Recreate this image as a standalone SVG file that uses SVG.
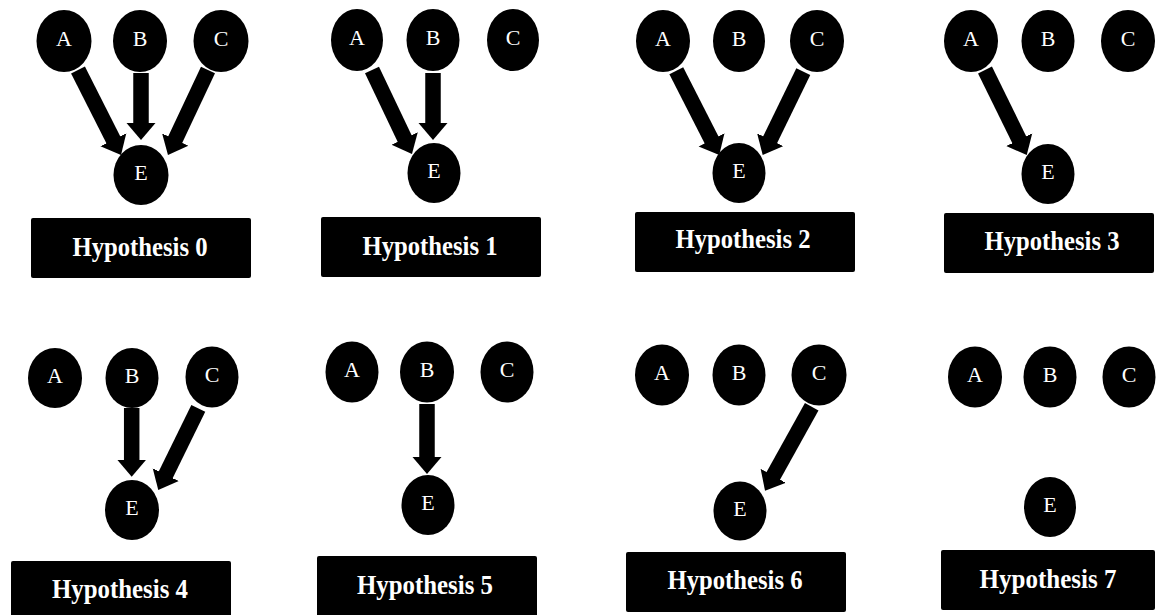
<svg xmlns="http://www.w3.org/2000/svg" width="1156" height="615" viewBox="0 0 1156 615">
<style>
.n{fill:#000}
.nt{font-family:"Liberation Serif","Times New Roman",serif;font-size:22px;fill:#fff;text-anchor:middle}
.lb{fill:#000}
.lt{font-family:"Liberation Serif","Times New Roman",serif;font-size:28px;font-weight:bold;fill:#fff;text-anchor:middle}
.c{stroke:#000;stroke-width:15.5;fill:none;marker-end:url(#ah)}
</style>
<defs>
<marker id="ah" markerUnits="userSpaceOnUse" viewBox="0 -15 18 30" markerWidth="18" markerHeight="30" refX="1" refY="0" orient="auto">
<path d="M0,-14.5 L17,0 L0,14.5 Z" fill="#000"/>
</marker>
</defs>
<rect width="1156" height="615" fill="#fff"/>
<g id="connectors">
<line class="c" x1="78" y1="70" x2="113.8" y2="140.7"/>
<line class="c" x1="141" y1="73" x2="141" y2="124"/>
<line class="c" x1="208" y1="70" x2="174.8" y2="140.5"/>
<line class="c" x1="372" y1="70" x2="405.1" y2="139.5"/>
<line class="c" x1="433" y1="73" x2="433" y2="124"/>
<line class="c" x1="676.3" y1="70.7" x2="712" y2="140.7"/>
<line class="c" x1="803.3" y1="71.7" x2="769.7" y2="140.6"/>
<line class="c" x1="985" y1="70" x2="1019.7" y2="140.6"/>
<line class="c" x1="131.7" y1="408" x2="131.7" y2="460.7"/>
<line class="c" x1="198.3" y1="408.3" x2="165.3" y2="475.6"/>
<line class="c" x1="427" y1="404" x2="427" y2="458"/>
<line class="c" x1="811.7" y1="406.7" x2="772.8" y2="476.7"/>
</g>
<!-- Hypothesis 0 -->
<g id="h0-A"><ellipse class="n" cx="64" cy="41" rx="27.5" ry="31"/><text class="nt" x="64" y="46">A</text></g>
<g id="h0-B"><ellipse class="n" cx="140" cy="41" rx="27" ry="31"/><text class="nt" x="140" y="46">B</text></g>
<g id="h0-C"><ellipse class="n" cx="221" cy="41" rx="27.5" ry="31"/><text class="nt" x="221" y="46">C</text></g>
<g id="h0-E"><ellipse class="n" cx="141" cy="175" rx="27.5" ry="30"/><text class="nt" x="141" y="180">E</text></g>
<g id="h0-label"><rect class="lb" x="31" y="218" width="220" height="60" rx="2"/><text class="lt" x="140" y="256" textLength="135" lengthAdjust="spacingAndGlyphs">Hypothesis 0</text></g>
<!-- Hypothesis 1 -->
<g id="h1-A"><ellipse class="n" cx="357" cy="40" rx="26" ry="31"/><text class="nt" x="357" y="45">A</text></g>
<g id="h1-B"><ellipse class="n" cx="433" cy="40" rx="26.5" ry="31"/><text class="nt" x="433" y="45">B</text></g>
<g id="h1-C"><ellipse class="n" cx="513" cy="40" rx="26" ry="31"/><text class="nt" x="513" y="45">C</text></g>
<g id="h1-E"><ellipse class="n" cx="434" cy="173" rx="26.5" ry="30"/><text class="nt" x="434" y="178">E</text></g>
<g id="h1-label"><rect class="lb" x="321" y="217" width="220" height="60" rx="2"/><text class="lt" x="430" y="255" textLength="135" lengthAdjust="spacingAndGlyphs">Hypothesis 1</text></g>
<!-- Hypothesis 2 -->
<g id="h2-A"><ellipse class="n" cx="663" cy="41" rx="27" ry="31"/><text class="nt" x="663" y="46">A</text></g>
<g id="h2-B"><ellipse class="n" cx="739" cy="41" rx="26" ry="31"/><text class="nt" x="739" y="46">B</text></g>
<g id="h2-C"><ellipse class="n" cx="817" cy="41" rx="27" ry="31"/><text class="nt" x="817" y="46">C</text></g>
<g id="h2-E"><ellipse class="n" cx="739" cy="173" rx="26.5" ry="30"/><text class="nt" x="739" y="178">E</text></g>
<g id="h2-label"><rect class="lb" x="635" y="212" width="220" height="60" rx="2"/><text class="lt" x="743" y="248" textLength="135" lengthAdjust="spacingAndGlyphs">Hypothesis 2</text></g>
<!-- Hypothesis 3 -->
<g id="h3-A"><ellipse class="n" cx="971" cy="41" rx="27" ry="31"/><text class="nt" x="971" y="46">A</text></g>
<g id="h3-B"><ellipse class="n" cx="1048" cy="41" rx="26.5" ry="31"/><text class="nt" x="1048" y="46">B</text></g>
<g id="h3-C"><ellipse class="n" cx="1128" cy="41" rx="27" ry="31"/><text class="nt" x="1128" y="46">C</text></g>
<g id="h3-E"><ellipse class="n" cx="1048" cy="174" rx="26.5" ry="30"/><text class="nt" x="1048" y="179">E</text></g>
<g id="h3-label"><rect class="lb" x="944" y="213" width="210" height="60" rx="2"/><text class="lt" x="1052" y="250" textLength="135" lengthAdjust="spacingAndGlyphs">Hypothesis 3</text></g>
<!-- Hypothesis 4 -->
<g id="h4-A"><ellipse class="n" cx="55" cy="378" rx="27" ry="30"/><text class="nt" x="55" y="383">A</text></g>
<g id="h4-B"><ellipse class="n" cx="132" cy="378" rx="26.5" ry="30"/><text class="nt" x="132" y="383">B</text></g>
<g id="h4-C"><ellipse class="n" cx="212" cy="377" rx="26.5" ry="30.5"/><text class="nt" x="212" y="382">C</text></g>
<g id="h4-E"><ellipse class="n" cx="132" cy="510" rx="27" ry="30"/><text class="nt" x="132" y="515">E</text></g>
<g id="h4-label"><rect class="lb" x="11" y="561" width="220" height="60" rx="2"/><text class="lt" x="120" y="598" textLength="136" lengthAdjust="spacingAndGlyphs">Hypothesis 4</text></g>
<!-- Hypothesis 5 -->
<g id="h5-A"><ellipse class="n" cx="352" cy="372" rx="26.5" ry="30.5"/><text class="nt" x="352" y="377">A</text></g>
<g id="h5-B"><ellipse class="n" cx="427" cy="372" rx="27" ry="30.5"/><text class="nt" x="427" y="377">B</text></g>
<g id="h5-C"><ellipse class="n" cx="507" cy="372" rx="26.5" ry="30.5"/><text class="nt" x="507" y="377">C</text></g>
<g id="h5-E"><ellipse class="n" cx="428" cy="505" rx="26.5" ry="30"/><text class="nt" x="428" y="510">E</text></g>
<g id="h5-label"><rect class="lb" x="317" y="556" width="220" height="65" rx="2"/><text class="lt" x="425" y="594" textLength="136" lengthAdjust="spacingAndGlyphs">Hypothesis 5</text></g>
<!-- Hypothesis 6 -->
<g id="h6-A"><ellipse class="n" cx="662" cy="375" rx="27" ry="30.5"/><text class="nt" x="662" y="380">A</text></g>
<g id="h6-B"><ellipse class="n" cx="739" cy="375" rx="26.5" ry="30.5"/><text class="nt" x="739" y="380">B</text></g>
<g id="h6-C"><ellipse class="n" cx="819" cy="375" rx="27.5" ry="30.5"/><text class="nt" x="819" y="380">C</text></g>
<g id="h6-E"><ellipse class="n" cx="740" cy="511" rx="26.5" ry="29.5"/><text class="nt" x="740" y="516">E</text></g>
<g id="h6-label"><rect class="lb" x="626" y="552" width="220" height="60" rx="2"/><text class="lt" x="735" y="589" textLength="135" lengthAdjust="spacingAndGlyphs">Hypothesis 6</text></g>
<!-- Hypothesis 7 -->
<g id="h7-A"><ellipse class="n" cx="975" cy="377" rx="27" ry="30.5"/><text class="nt" x="975" y="382">A</text></g>
<g id="h7-B"><ellipse class="n" cx="1050" cy="377" rx="26.5" ry="30.5"/><text class="nt" x="1050" y="382">B</text></g>
<g id="h7-C"><ellipse class="n" cx="1129" cy="377" rx="26.5" ry="30.5"/><text class="nt" x="1129" y="382">C</text></g>
<g id="h7-E"><ellipse class="n" cx="1050" cy="507" rx="26" ry="30"/><text class="nt" x="1050" y="512">E</text></g>
<g id="h7-label"><rect class="lb" x="941" y="550" width="214" height="60" rx="2"/><text class="lt" x="1048" y="588" textLength="137" lengthAdjust="spacingAndGlyphs">Hypothesis 7</text></g>
</svg>
